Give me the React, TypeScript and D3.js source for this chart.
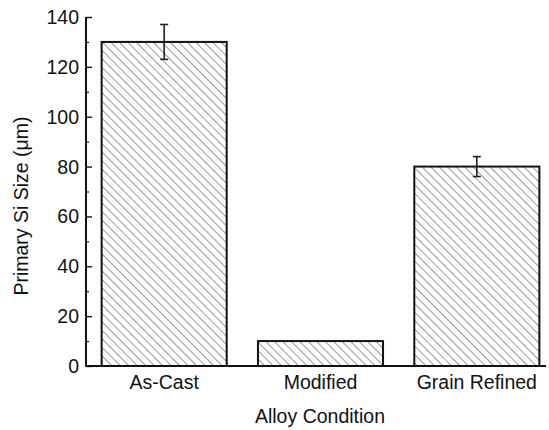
import React, { useEffect, useRef } from 'react';
import * as d3 from 'd3';

// Data
const conditions = ['As-Cast', 'Modified', 'Grain Refined'];
const sizes = [130, 10, 80];
const errors = [7, 0, 4];
const yTicks = [0, 20, 40, 60, 80, 100, 120, 140];
const yMinorTicks = [10, 30, 50, 70, 90, 110, 130];

const BarChart: React.FC = () => {
  const svgRef = useRef<SVGSVGElement>(null);

  useEffect(() => {
    const width = 549;
    const height = 430;
    const svg = d3.select(svgRef.current)
      .attr('width', width)
      .attr('height', height);
    svg.selectAll('*').remove();

    const font = 'Liberation Sans, Arial, sans-serif';
    const fs = 19.5;

    const x = d3.scaleBand<string>()
      .domain(conditions)
      .range([86, 555])
      .paddingInner(0.2)
      .paddingOuter(0.1);

    const y = d3.scaleLinear()
      .domain([0, 140])
      .range([366, 17]);

    // hatch pattern
    const defs = svg.append('defs');
    defs.append('pattern')
      .attr('id', 'hatch')
      .attr('patternUnits', 'userSpaceOnUse')
      .attr('width', 6)
      .attr('height', 6)
      .attr('patternTransform', 'rotate(-45)')
      .append('line')
      .attr('x1', 0).attr('y1', 0)
      .attr('x2', 0).attr('y2', 6)
      .attr('stroke', '#444')
      .attr('stroke-width', 1.1);

    const data = conditions.map((c, i) => ({ c, v: sizes[i], e: errors[i] }));

    // bars
    svg.selectAll('rect.bar')
      .data(data)
      .enter()
      .append('rect')
      .attr('class', 'bar')
      .attr('x', d => x(d.c)!)
      .attr('y', d => y(d.v))
      .attr('width', x.bandwidth())
      .attr('height', d => y(0) - y(d.v))
      .attr('fill', 'url(#hatch)')
      .attr('stroke', '#111')
      .attr('stroke-width', 2);

    // error bars
    const eb = svg.selectAll('g.err')
      .data(data.filter(d => d.e > 0))
      .enter()
      .append('g')
      .attr('class', 'err')
      .attr('stroke', '#222')
      .attr('stroke-width', 1.6);
    eb.append('line')
      .attr('x1', d => x(d.c)! + x.bandwidth() / 2)
      .attr('x2', d => x(d.c)! + x.bandwidth() / 2)
      .attr('y1', d => y(d.v + d.e))
      .attr('y2', d => y(d.v - d.e));
    [1, -1].forEach(s => {
      eb.append('line')
        .attr('x1', d => x(d.c)! + x.bandwidth() / 2 - 4)
        .attr('x2', d => x(d.c)! + x.bandwidth() / 2 + 4)
        .attr('y1', d => y(d.v + s * d.e))
        .attr('y2', d => y(d.v + s * d.e));
    });

    // y axis
    const yAxis = svg.append('g')
      .attr('transform', 'translate(86,0)')
      .call(d3.axisRight(y).tickValues(yTicks).tickSize(6).tickFormat(() => ''));
    yAxis.select('.domain').remove();
    yAxis.selectAll('line').attr('stroke', '#111').attr('stroke-width', 1.4);

    const yMinor = svg.append('g')
      .attr('transform', 'translate(86,0)')
      .call(d3.axisRight(y).tickValues(yMinorTicks).tickSize(3).tickFormat(() => ''));
    yMinor.select('.domain').remove();
    yMinor.selectAll('line').attr('stroke', '#111').attr('stroke-width', 1.2);

    svg.append('line')
      .attr('x1', 86).attr('x2', 86)
      .attr('y1', y(140)).attr('y2', y(0) + 1)
      .attr('stroke', '#111').attr('stroke-width', 2);

    svg.selectAll('text.ytick')
      .data(yTicks)
      .enter()
      .append('text')
      .attr('class', 'ytick')
      .attr('x', 79)
      .attr('y', d => y(d))
      .attr('dy', '0.36em')
      .attr('text-anchor', 'end')
      .attr('font-family', font)
      .attr('font-size', fs)
      .attr('fill', '#111')
      .text(d => d);

    // x axis
    svg.append('line')
      .attr('x1', 85).attr('x2', 546)
      .attr('y1', y(0)).attr('y2', y(0))
      .attr('stroke', '#111').attr('stroke-width', 2);

    svg.selectAll('text.xtick')
      .data(conditions)
      .enter()
      .append('text')
      .attr('class', 'xtick')
      .attr('x', d => x(d)! + x.bandwidth() / 2)
      .attr('y', 389)
      .attr('text-anchor', 'middle')
      .attr('font-family', font)
      .attr('font-size', fs)
      .attr('fill', '#111')
      .text(d => d);

    // axis titles
    svg.append('text')
      .attr('x', 320)
      .attr('y', 423)
      .attr('text-anchor', 'middle')
      .attr('font-family', font)
      .attr('font-size', fs)
      .attr('fill', '#111')
      .text('Alloy Condition');

    svg.append('text')
      .attr('transform', 'translate(28,206) rotate(-90)')
      .attr('text-anchor', 'middle')
      .attr('font-family', font)
      .attr('font-size', fs)
      .attr('fill', '#111')
      .text('Primary Si Size (μm)');
  }, []);

  return <svg ref={svgRef} style={{ position: 'absolute', left: 0, top: 0 }}></svg>;
};

const App: React.FC = () => {
  return (
    <div>
      <BarChart />
    </div>
  );
};

export default App;
